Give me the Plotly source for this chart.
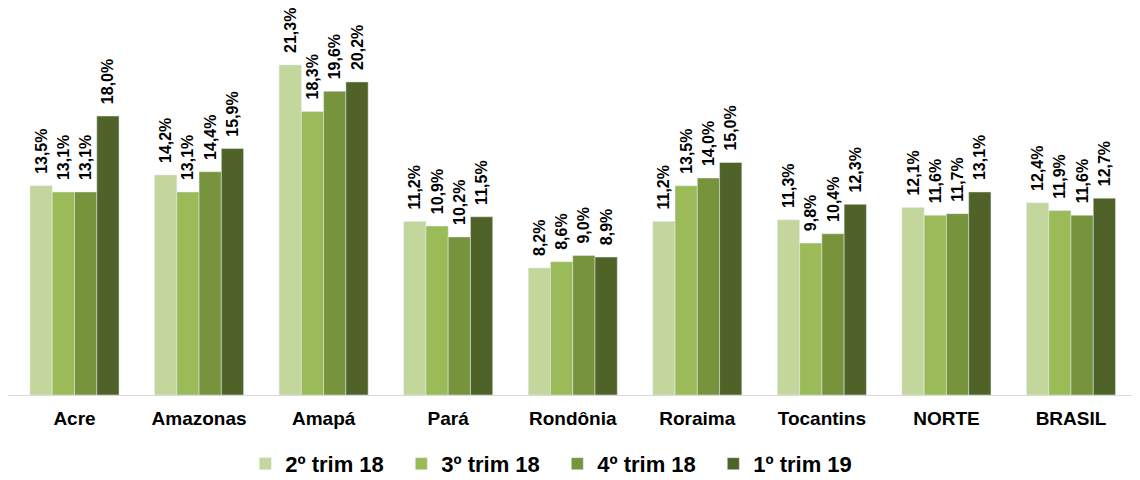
import plotly.graph_objects as go

categorias = ["Acre", "Amazonas", "Amapá", "Pará", "Rondônia", "Roraima", "Tocantins", "NORTE", "BRASIL"]
series = ["2º trim 18", "3º trim 18", "4º trim 18", "1º trim 19"]
trim2_18 = [13.5, 14.2, 21.3, 11.2, 8.2, 11.2, 11.3, 12.1, 12.4]
trim3_18 = [13.1, 13.1, 18.3, 10.9, 8.6, 13.5, 9.8, 11.6, 11.9]
trim4_18 = [13.1, 14.4, 19.6, 10.2, 9.0, 14.0, 10.4, 11.7, 11.6]
trim1_19 = [18.0, 15.9, 20.2, 11.5, 8.9, 15.0, 12.3, 13.1, 12.7]
valores = [trim2_18, trim3_18, trim4_18, trim1_19]
cores = ["#C3D69B", "#9BBB59", "#77933C", "#4F6228"]

fig = go.Figure()
for nome, vals, cor in zip(series, valores, cores):
    fig.add_trace(go.Bar(
        name=nome, x=categorias, y=vals, marker_color=cor,
        # espacos no inicio afastam o rotulo do topo da barra
        text=["\u00a0\u00a0" + f"{v:.1f}%".replace(".", ",") for v in vals],
        textposition="outside", textangle=-90, constraintext="none",
        cliponaxis=False,
        textfont=dict(family="Liberation Sans, Arial, sans-serif",
                      size=16, color="black", weight="bold"),
    ))

fig.update_layout(
    width=1140, height=480,
    margin=dict(l=0, r=10, t=0, b=93, autoexpand=False),
    barmode="group", bargap=0.285, bargroupgap=0,
    plot_bgcolor="white", paper_bgcolor="white",
    font=dict(family="Liberation Sans, Arial, sans-serif", color="black"),
    legend=dict(orientation="h", x=0.21, xanchor="left", y=-0.178, yanchor="middle",
                font=dict(size=22, weight="bold"), itemwidth=30,
                entrywidth=111, entrywidthmode="pixels"),
)
fig.update_xaxes(range=[-0.534, 8.538], showline=True, linecolor="#D9D9D9", linewidth=1,
                 tickfont=dict(size=19, weight="bold"), ticklabelstandoff=6)
fig.update_yaxes(range=[0, 24.97], visible=False)

fig.write_html("out.html")
